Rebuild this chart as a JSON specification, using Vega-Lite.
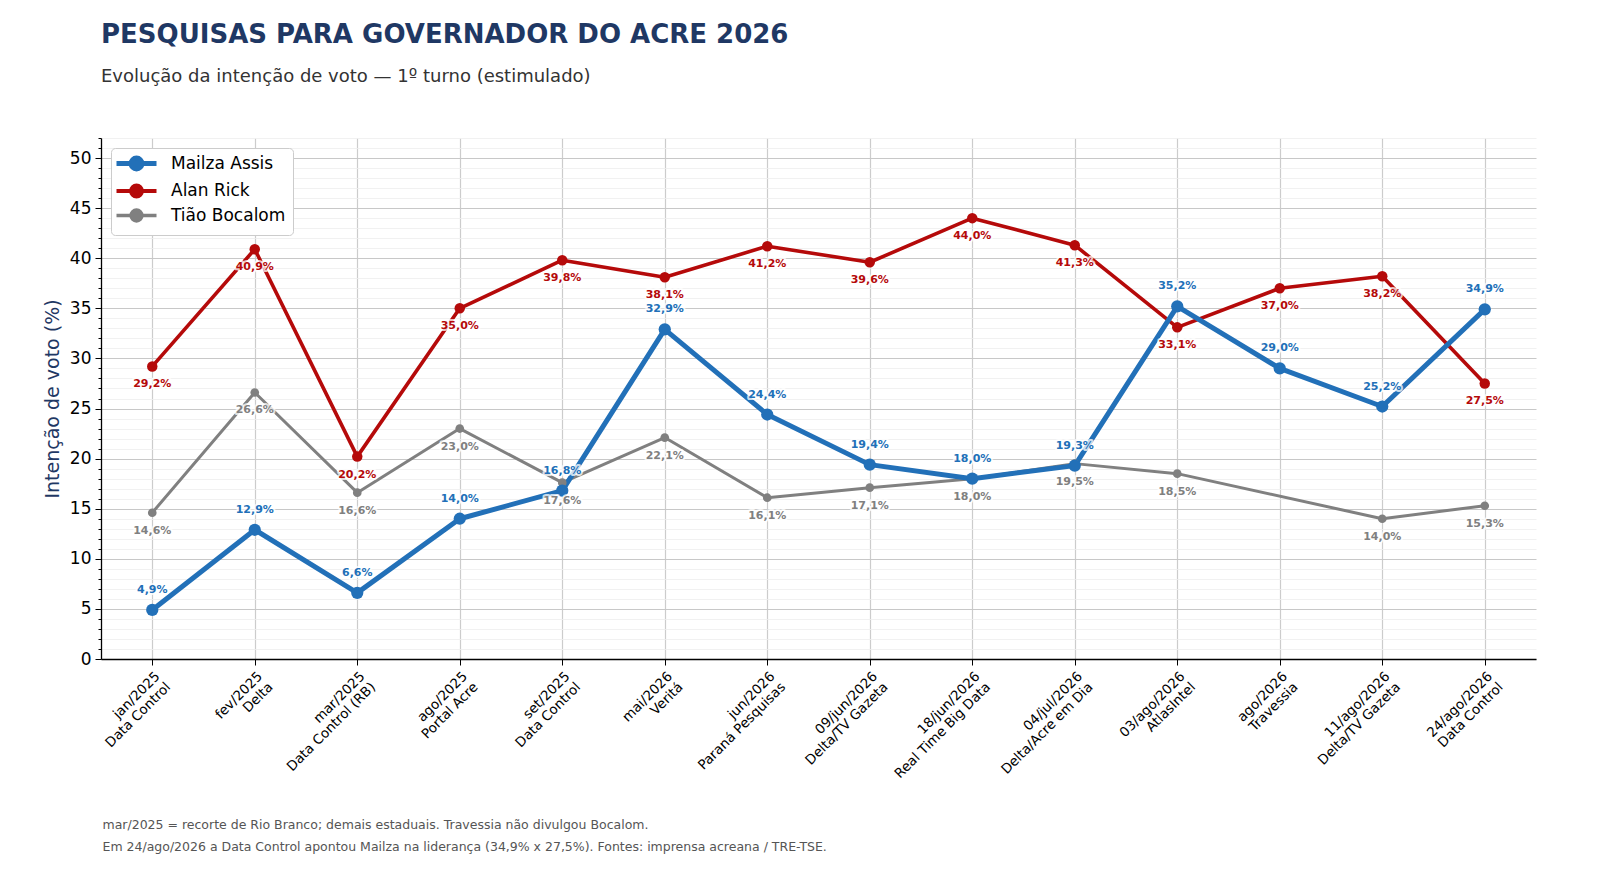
{
  "$schema": "https://vega.github.io/schema/vega-lite/v6.json",
  "width": 1435,
  "height": 521,
  "autosize": {"type": "none"},
  "padding": {"left": 101, "top": 138, "right": 64, "bottom": 227},
  "background": "white",
  "title": {
    "text": "PESQUISAS PARA GOVERNADOR DO ACRE 2026",
    "subtitle": "Evolução da intenção de voto — 1º turno (estimulado)",
    "anchor": "start",
    "frame": "group",
    "fontSize": 26,
    "fontWeight": "bold",
    "color": "#1f3864",
    "subtitleFontSize": 18,
    "subtitleColor": "#333333",
    "subtitlePadding": 20,
    "offset": 52
  },
  "data": {
    "values": [
      {"pesquisa": "jan/2025|Data Control", "cand": "Mailza Assis", "v": 4.9},
      {"pesquisa": "fev/2025|Delta", "cand": "Mailza Assis", "v": 12.9},
      {"pesquisa": "mar/2025|Data Control (RB)", "cand": "Mailza Assis", "v": 6.6},
      {"pesquisa": "ago/2025|Portal Acre", "cand": "Mailza Assis", "v": 14.0},
      {"pesquisa": "set/2025|Data Control", "cand": "Mailza Assis", "v": 16.8},
      {"pesquisa": "mai/2026|Veritá", "cand": "Mailza Assis", "v": 32.9},
      {"pesquisa": "jun/2026|Paraná Pesquisas", "cand": "Mailza Assis", "v": 24.4},
      {"pesquisa": "09/jun/2026|Delta/TV Gazeta", "cand": "Mailza Assis", "v": 19.4},
      {"pesquisa": "18/jun/2026|Real Time Big Data", "cand": "Mailza Assis", "v": 18.0},
      {"pesquisa": "04/jul/2026|Delta/Acre em Dia", "cand": "Mailza Assis", "v": 19.3},
      {"pesquisa": "03/ago/2026|AtlasIntel", "cand": "Mailza Assis", "v": 35.2},
      {"pesquisa": "ago/2026|Travessia", "cand": "Mailza Assis", "v": 29.0},
      {"pesquisa": "11/ago/2026|Delta/TV Gazeta", "cand": "Mailza Assis", "v": 25.2},
      {"pesquisa": "24/ago/2026|Data Control", "cand": "Mailza Assis", "v": 34.9},
      {"pesquisa": "jan/2025|Data Control", "cand": "Alan Rick", "v": 29.2},
      {"pesquisa": "fev/2025|Delta", "cand": "Alan Rick", "v": 40.9},
      {"pesquisa": "mar/2025|Data Control (RB)", "cand": "Alan Rick", "v": 20.2},
      {"pesquisa": "ago/2025|Portal Acre", "cand": "Alan Rick", "v": 35.0},
      {"pesquisa": "set/2025|Data Control", "cand": "Alan Rick", "v": 39.8},
      {"pesquisa": "mai/2026|Veritá", "cand": "Alan Rick", "v": 38.1},
      {"pesquisa": "jun/2026|Paraná Pesquisas", "cand": "Alan Rick", "v": 41.2},
      {"pesquisa": "09/jun/2026|Delta/TV Gazeta", "cand": "Alan Rick", "v": 39.6},
      {"pesquisa": "18/jun/2026|Real Time Big Data", "cand": "Alan Rick", "v": 44.0},
      {"pesquisa": "04/jul/2026|Delta/Acre em Dia", "cand": "Alan Rick", "v": 41.3},
      {"pesquisa": "03/ago/2026|AtlasIntel", "cand": "Alan Rick", "v": 33.1},
      {"pesquisa": "ago/2026|Travessia", "cand": "Alan Rick", "v": 37.0},
      {"pesquisa": "11/ago/2026|Delta/TV Gazeta", "cand": "Alan Rick", "v": 38.2},
      {"pesquisa": "24/ago/2026|Data Control", "cand": "Alan Rick", "v": 27.5},
      {"pesquisa": "jan/2025|Data Control", "cand": "Tião Bocalom", "v": 14.6},
      {"pesquisa": "fev/2025|Delta", "cand": "Tião Bocalom", "v": 26.6},
      {"pesquisa": "mar/2025|Data Control (RB)", "cand": "Tião Bocalom", "v": 16.6},
      {"pesquisa": "ago/2025|Portal Acre", "cand": "Tião Bocalom", "v": 23.0},
      {"pesquisa": "set/2025|Data Control", "cand": "Tião Bocalom", "v": 17.6},
      {"pesquisa": "mai/2026|Veritá", "cand": "Tião Bocalom", "v": 22.1},
      {"pesquisa": "jun/2026|Paraná Pesquisas", "cand": "Tião Bocalom", "v": 16.1},
      {"pesquisa": "09/jun/2026|Delta/TV Gazeta", "cand": "Tião Bocalom", "v": 17.1},
      {"pesquisa": "18/jun/2026|Real Time Big Data", "cand": "Tião Bocalom", "v": 18.0},
      {"pesquisa": "04/jul/2026|Delta/Acre em Dia", "cand": "Tião Bocalom", "v": 19.5},
      {"pesquisa": "03/ago/2026|AtlasIntel", "cand": "Tião Bocalom", "v": 18.5},
      {"pesquisa": "11/ago/2026|Delta/TV Gazeta", "cand": "Tião Bocalom", "v": 14.0},
      {"pesquisa": "24/ago/2026|Data Control", "cand": "Tião Bocalom", "v": 15.3}
    ]
  },
  "transform": [
    {"calculate": "replace(format(datum.v, '.1f'), '.', ',') + '%'", "as": "rotulo"}
  ],
  "encoding": {
    "x": {
      "field": "pesquisa",
      "type": "nominal",
      "sort": [
        "jan/2025|Data Control",
        "fev/2025|Delta",
        "mar/2025|Data Control (RB)",
        "ago/2025|Portal Acre",
        "set/2025|Data Control",
        "mai/2026|Veritá",
        "jun/2026|Paraná Pesquisas",
        "09/jun/2026|Delta/TV Gazeta",
        "18/jun/2026|Real Time Big Data",
        "04/jul/2026|Delta/Acre em Dia",
        "03/ago/2026|AtlasIntel",
        "ago/2026|Travessia",
        "11/ago/2026|Delta/TV Gazeta",
        "24/ago/2026|Data Control"
      ],
      "scale": {"type": "point", "padding": 0.5},
      "axis": {
        "labelExpr": "split(datum.label, '|')",
        "labelAngle": -45,
        "labelAlign": "right",
        "labelBaseline": "top",
        "labelFontSize": 13.5,
        "labelColor": "#000000",
        "labelPadding": 4,
        "labelLineHeight": 15,
        "tickSize": 6,
        "tickColor": "#000000",
        "domainColor": "#000000",
        "domainWidth": 1.3,
        "grid": true,
        "gridColor": "#cccccc",
        "gridWidth": 1.2,
        "title": [
          "mar/2025 = recorte de Rio Branco; demais estaduais. Travessia não divulgou Bocalom.",
          "Em 24/ago/2026 a Data Control apontou Mailza na liderança (34,9% x 27,5%).  Fontes: imprensa acreana / TRE-TSE."
        ],
        "titleAnchor": "start",
        "titleAlign": "left",
        "titleBaseline": "middle",
        "titleX": 1,
        "titleY": 165,
        "titleFontSize": 12.5,
        "titleFontWeight": "normal",
        "titleColor": "#555555",
        "titleLineHeight": 22
      }
    },
    "y": {
      "field": "v",
      "type": "quantitative",
      "scale": {"domain": [0, 52], "nice": false},
      "axis": {
        "values": [0,1,2,3,4,5,6,7,8,9,10,11,12,13,14,15,16,17,18,19,20,21,22,23,24,25,26,27,28,29,30,31,32,33,34,35,36,37,38,39,40,41,42,43,44,45,46,47,48,49,50,51,52],
        "labelExpr": "datum.value % 5 == 0 ? datum.label : ''",
        "labelFontSize": 17,
        "labelColor": "#000000",
        "labelPadding": 4,
        "tickColor": "#000000",
        "tickSize": {"condition": {"test": "datum.value % 5 == 0", "value": 6}, "value": 3},
        "domainColor": "#000000",
        "domainWidth": 1.3,
        "grid": true,
        "gridColor": {"condition": {"test": "datum.value % 5 == 0", "value": "#c8c8c8"}, "value": "#eeeeee"},
        "gridWidth": {"condition": {"test": "datum.value % 5 == 0", "value": 1.2}, "value": 0.8},
        "title": "Intenção de voto (%)",
        "titleFontSize": 19,
        "titleFontWeight": "normal",
        "titleColor": "#1f3864",
        "titlePadding": 7
      }
    },
    "color": {
      "field": "cand",
      "type": "nominal",
      "scale": {
        "domain": ["Mailza Assis", "Alan Rick", "Tião Bocalom"],
        "range": ["#2270b8", "#b50a0a", "#808080"]
      },
      "legend": {
        "title": null,
        "orient": "top-left",
        "offset": 10,
        "fillColor": "white",
        "strokeColor": "#cccccc",
        "cornerRadius": 4,
        "padding": 7,
        "labelFontSize": 17,
        "labelColor": "#000000",
        "symbolType": "M-1,0L1,0M-0.27,0A0.27,0.27,0,1,1,0.27,0A0.27,0.27,0,1,1,-0.27,0Z",
        "symbolSize": 1600,
        "symbolOpacity": 1,
        "symbolOffset": 10,
        "rowPadding": -1.5,
        "labelOffset": 26,
        "encode": {
          "symbols": {
            "update": {
              "size": {"value": 1600},
              "fill": {"scale": "color", "field": "value"},
              "stroke": {"scale": "color", "field": "value"},
              "strokeWidth": {"signal": "datum.value == 'Mailza Assis' ? 5 : datum.value == 'Alan Rick' ? 4 : 3.5"}
            }
          }
        }
      }
    }
  },
  "layer": [
    {
      "transform": [{"filter": "datum.cand == 'Tião Bocalom'"}],
      "mark": {"type": "line", "strokeJoin": "round", "strokeWidth": 3}
    },
    {
      "transform": [{"filter": "datum.cand == 'Alan Rick'"}],
      "mark": {"type": "line", "strokeJoin": "round", "strokeWidth": 3.6}
    },
    {
      "transform": [{"filter": "datum.cand == 'Mailza Assis'"}],
      "mark": {"type": "line", "strokeJoin": "round", "strokeWidth": 5}
    },
    {
      "transform": [{"filter": "datum.cand == 'Tião Bocalom'"}],
      "mark": {"type": "point", "filled": true, "opacity": 1, "size": 75}
    },
    {
      "transform": [{"filter": "datum.cand == 'Alan Rick'"}],
      "mark": {"type": "point", "filled": true, "opacity": 1, "size": 110}
    },
    {
      "transform": [{"filter": "datum.cand == 'Mailza Assis'"}],
      "mark": {"type": "point", "filled": true, "opacity": 1, "size": 150}
    },
    {
      "transform": [{"filter": "datum.cand == 'Mailza Assis'"}],
      "mark": {"type": "text", "dy": -20, "fontSize": 11, "fontWeight": "bold", "fill": "white", "stroke": "white", "strokeWidth": 4, "strokeOpacity": 0.75, "fillOpacity": 0.75, "strokeJoin": "round"},
      "encoding": {"text": {"field": "rotulo"}, "color": {"value": "white"}}
    },
    {
      "transform": [{"filter": "datum.cand == 'Mailza Assis'"}],
      "mark": {"type": "text", "dy": -20, "fontSize": 11, "fontWeight": "bold"},
      "encoding": {"text": {"field": "rotulo"}}
    },
    {
      "transform": [{"filter": "datum.cand != 'Mailza Assis'"}],
      "mark": {"type": "text", "dy": 18, "fontSize": 11, "fontWeight": "bold", "fill": "white", "stroke": "white", "strokeWidth": 4, "strokeOpacity": 0.75, "fillOpacity": 0.75, "strokeJoin": "round"},
      "encoding": {"text": {"field": "rotulo"}, "color": {"value": "white"}}
    },
    {
      "transform": [{"filter": "datum.cand != 'Mailza Assis'"}],
      "mark": {"type": "text", "dy": 18, "fontSize": 11, "fontWeight": "bold"},
      "encoding": {"text": {"field": "rotulo"}}
    }
  ],
  "config": {
    "font": "DejaVu Sans",
    "view": {"stroke": null},
    "axis": {"labelFont": "DejaVu Sans", "titleFont": "DejaVu Sans"},
    "legend": {"labelFont": "DejaVu Sans"},
    "title": {"font": "DejaVu Sans", "subtitleFont": "DejaVu Sans"}
  }
}
